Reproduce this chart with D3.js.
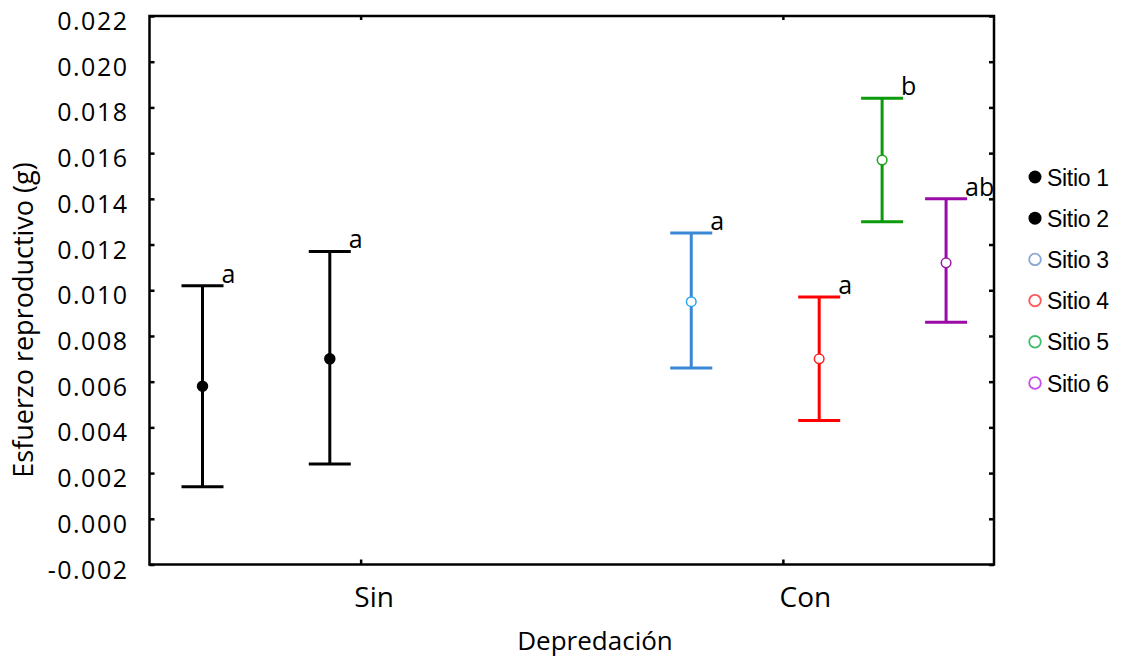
<!DOCTYPE html>
<html>
<head>
<meta charset="utf-8">
<script src="https://cdn.jsdelivr.net/npm/d3@7/dist/d3.min.js"></script>
<style>
  html, body { margin: 0; padding: 0; background: #fff; }
  svg { display: block; }
</style>
</head>
<body>
<svg id="chart" width="1122" height="659"></svg>
<script>
// Reproductive effort (g) by predation condition, one interval per site
const categories = ["Sin", "Con"];
const categoryX = [1, 3];
const sites = ["Sitio 1", "Sitio 2", "Sitio 3", "Sitio 4", "Sitio 5", "Sitio 6"];
const siteGroup = ["Sin", "Sin", "Con", "Con", "Con", "Con"];
const siteX = [0.251, 0.854, 2.566, 3.172, 3.470, 3.773];
const means = [0.0058, 0.0070, 0.0095, 0.0070, 0.0157, 0.0112];
const upper = [0.0102, 0.0117, 0.0125, 0.0097, 0.0184, 0.0140];
const lower = [0.0014, 0.0024, 0.0066, 0.0043, 0.0130, 0.0086];
const letters = ["a", "a", "a", "a", "b", "ab"];
const yTicks = [-0.002, 0.000, 0.002, 0.004, 0.006, 0.008, 0.010, 0.012, 0.014, 0.016, 0.018, 0.020, 0.022];

const barColor = ["#000000", "#000000", "#3a87d6", "#ff0000", "#0a9a0a", "#9a0aa6"];
const pointColor = ["#000000", "#000000", "#2aa6ee", "#ff2020", "#1aa31a", "#9a1aa8"];
const legendColor = ["#000000", "#000000", "#8aa6d2", "#ff5555", "#3dbb6c", "#c84af2"];
const filled = [true, true, false, false, false, false];

const svg = d3.select("#chart");
const plot = { left: 149.5, right: 994, top: 16, bottom: 564.5 };

const x = d3.scaleLinear().domain([0, 4]).range([plot.left, plot.right]);
const y = d3.scaleLinear().domain([-0.002, 0.022]).range([plot.bottom, plot.top]);

const fmt = d3.formatLocale({ decimal: ".", thousands: ",", grouping: [3], currency: ["", ""], minus: "-" }).format(".3f");
const sansText = "'Open Sans', 'Noto Sans', sans-serif";

// Left axis: inward ticks, labels outside
const leftAxis = svg.append("g")
  .attr("transform", `translate(${plot.left},0)`)
  .call(d3.axisLeft(y).tickValues(yTicks).tickSize(-5).tickPadding(21).tickFormat(fmt));
leftAxis.select(".domain").remove();
leftAxis.selectAll(".tick line").attr("stroke", "#000").attr("stroke-width", 2.5);
leftAxis.selectAll(".tick text")
  .attr("dy", "0.54em")
  .style("font-family", sansText)
  .style("font-size", "25px")
  .style("letter-spacing", "1.5px")
  .attr("fill", "#000");

// Right axis: ticks only
const rightAxis = svg.append("g")
  .attr("transform", `translate(${plot.right},0)`)
  .call(d3.axisRight(y).tickValues(yTicks).tickSize(-5).tickFormat(""));
rightAxis.select(".domain").remove();
rightAxis.selectAll(".tick line").attr("stroke", "#000").attr("stroke-width", 2.5);

// Bottom axis with category labels
const bottomAxis = svg.append("g")
  .attr("transform", `translate(0,${plot.bottom})`)
  .call(d3.axisBottom(x).tickValues(categoryX).tickSize(-5).tickFormat((d, i) => categories[i]));
bottomAxis.select(".domain").remove();
bottomAxis.selectAll(".tick line").attr("stroke", "#000").attr("stroke-width", 2.5);
bottomAxis.selectAll(".tick text")
  .attr("y", 42).attr("dy", 0).attr("dx", (d, i) => i === 0 ? 13 : 22)
  .style("font-family", sansText)
  .style("font-size", "28px")
  .attr("fill", "#000");

// Top axis: ticks only
const topAxis = svg.append("g")
  .attr("transform", `translate(0,${plot.top})`)
  .call(d3.axisTop(x).tickValues(categoryX).tickSize(-4).tickFormat(""));
topAxis.select(".domain").remove();
topAxis.selectAll(".tick line").attr("stroke", "#000").attr("stroke-width", 2.5);

// Plot frame
svg.append("rect")
  .attr("x", plot.left).attr("y", plot.top)
  .attr("width", plot.right - plot.left).attr("height", plot.bottom - plot.top)
  .attr("fill", "none").attr("stroke", "#000").attr("stroke-width", 2.5);

// Axis titles
svg.append("text")
  .attr("x", 595).attr("y", 650)
  .attr("text-anchor", "middle")
  .style("font-family", sansText).style("font-size", "26px")
  .text("Depredación");

svg.append("text")
  .attr("transform", "translate(33,320) rotate(-90)")
  .attr("text-anchor", "middle")
  .style("font-family", sansText).style("font-size", "27px")
  .text("Esfuerzo reproductivo (g)");

// Intervals
const capHalf = 21;
const rows = sites.map((s, i) => ({ i, site: s, group: siteGroup[i], x: siteX[i], mean: means[i], hi: upper[i], lo: lower[i], letter: letters[i] }));

const bars = svg.append("g").selectAll("g").data(rows).join("g");
bars.append("line")
  .attr("x1", d => x(d.x)).attr("x2", d => x(d.x))
  .attr("y1", d => y(d.lo)).attr("y2", d => y(d.hi))
  .attr("stroke", d => barColor[d.i]).attr("stroke-width", 3);
bars.append("line")
  .attr("x1", d => x(d.x) - capHalf).attr("x2", d => x(d.x) + capHalf)
  .attr("y1", d => y(d.hi)).attr("y2", d => y(d.hi))
  .attr("stroke", d => barColor[d.i]).attr("stroke-width", 3);
bars.append("line")
  .attr("x1", d => x(d.x) - capHalf).attr("x2", d => x(d.x) + capHalf)
  .attr("y1", d => y(d.lo)).attr("y2", d => y(d.lo))
  .attr("stroke", d => barColor[d.i]).attr("stroke-width", 3);
bars.append("circle")
  .attr("cx", d => x(d.x)).attr("cy", d => y(d.mean))
  .attr("r", d => filled[d.i] ? 5 : 4.8)
  .attr("fill", d => filled[d.i] ? pointColor[d.i] : "#fff")
  .attr("stroke", d => pointColor[d.i]).attr("stroke-width", 1.5);
bars.append("text")
  .attr("x", d => x(d.x) + capHalf - 2)
  .attr("y", d => y(d.hi) - 3)
  .style("font-family", sansText).style("font-size", "25px")
  .attr("fill", "#000")
  .text(d => d.letter);

// Legend
const legend = svg.append("g").attr("transform", "translate(1035,177)");
const item = legend.selectAll("g").data(sites).join("g")
  .attr("transform", (d, i) => `translate(0,${i * 41.2})`);
item.append("circle")
  .attr("r", (d, i) => filled[i] ? 6.5 : 5.8)
  .attr("fill", (d, i) => filled[i] ? legendColor[i] : "#fff")
  .attr("stroke", (d, i) => legendColor[i])
  .attr("stroke-width", (d, i) => filled[i] ? 0 : 1.8);
item.append("text")
  .attr("x", 12).attr("y", 8.5)
  .style("font-family", "'Liberation Sans', Arial, sans-serif")
  .style("font-size", "23px")
  .style("letter-spacing", "-0.3px")
  .attr("fill", "#000")
  .text(d => d);
</script>
</body>
</html>
